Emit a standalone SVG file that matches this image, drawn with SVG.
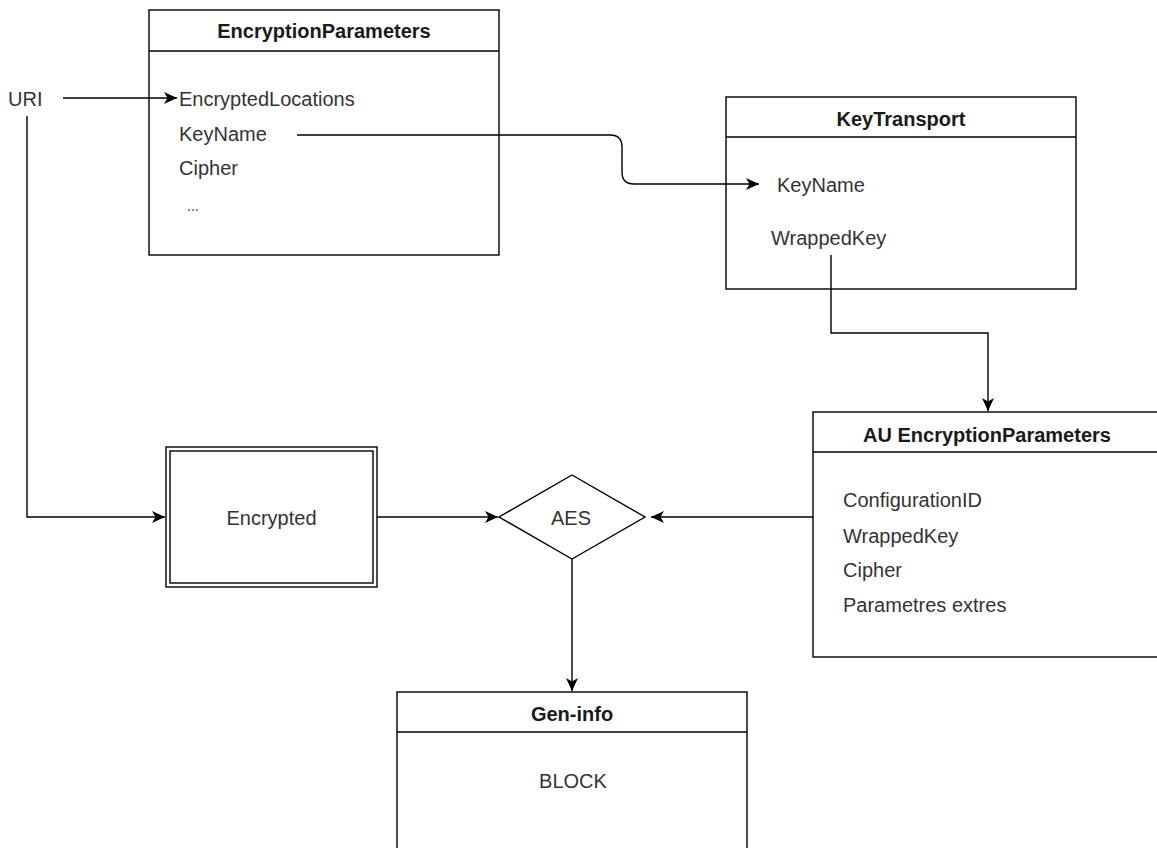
<svg xmlns="http://www.w3.org/2000/svg" width="1157" height="848" viewBox="0 0 1157 848">
  <defs>
    <style>
      .box { fill: #ffffff; stroke: #000000; stroke-width: 1.4; }
      .div { stroke: #000000; stroke-width: 1.4; fill: none; }
      .title { font-family: "Liberation Sans", Arial, sans-serif; font-size: 20px; font-weight: bold; fill: #1a1a1a; text-anchor: middle; }
      .item { font-family: "Liberation Sans", Arial, sans-serif; font-size: 20px; fill: #333333; }
      .mid { text-anchor: middle; }
      .edge { fill: none; stroke: #000000; stroke-width: 1.4; }
    </style>
    <marker id="arrow" markerUnits="userSpaceOnUse" markerWidth="15" markerHeight="13" refX="14" refY="6.5" orient="auto">
      <path d="M1,0.5 L14,6.5 L1,12.5 L4.5,6.5 Z" fill="#000000"/>
    </marker>
  </defs>

  <rect width="1157" height="848" fill="#ffffff"/>

  <!-- free label -->
  <g id="uri">
    <text class="item" x="8" y="106">URI</text>
  </g>

  <g id="encryption-parameters">
    <rect class="box" x="149" y="10" width="350" height="245"/>
    <line class="div" x1="149" y1="51" x2="499" y2="51"/>
    <text class="title" x="324" y="38">EncryptionParameters</text>
    <text class="item" x="179" y="106">EncryptedLocations</text>
    <text class="item" x="179" y="141">KeyName</text>
    <text class="item" x="179" y="175">Cipher</text>
    <text class="item" x="187" y="211" style="font-size:14px">...</text>
  </g>

  <g id="key-transport">
    <rect class="box" x="726" y="97" width="350" height="192"/>
    <line class="div" x1="726" y1="137" x2="1076" y2="137"/>
    <text class="title" x="901" y="126">KeyTransport</text>
    <text class="item" x="777" y="192">KeyName</text>
    <text class="item" x="771" y="245">WrappedKey</text>
  </g>

  <g id="au-encryption-parameters">
    <rect class="box" x="813" y="412" width="350" height="245"/>
    <line class="div" x1="813" y1="452" x2="1163" y2="452"/>
    <text class="title" x="987" y="442">AU EncryptionParameters</text>
    <text class="item" x="843" y="507">ConfigurationID</text>
    <text class="item" x="843" y="543">WrappedKey</text>
    <text class="item" x="843" y="577">Cipher</text>
    <text class="item" x="843" y="612">Parametres extres</text>
  </g>

  <g id="encrypted">
    <rect class="box" x="166" y="447" width="211" height="140"/>
    <rect class="box" x="170" y="451" width="203" height="132"/>
    <text class="item mid" x="271.5" y="525">Encrypted</text>
  </g>

  <g id="aes">
    <polygon class="box" points="572,475 645,517 572,559 499,517"/>
    <text class="item mid" x="571" y="525">AES</text>
  </g>

  <g id="gen-info">
    <rect class="box" x="397" y="692" width="350" height="170"/>
    <line class="div" x1="397" y1="732" x2="747" y2="732"/>
    <text class="title" x="572" y="721">Gen-info</text>
    <text class="item mid" x="573" y="788">BLOCK</text>
  </g>

  <!-- connectors, drawn last so they run over the boxes -->
  <g id="connectors">
    <path class="edge" d="M63,98 H177" marker-end="url(#arrow)"/>
    <path class="edge" d="M27,116 V517 H165" marker-end="url(#arrow)"/>
    <path class="edge" d="M297,135 H610 Q622,135 622,147 V172 Q622,184 634,184 H759" marker-end="url(#arrow)"/>
    <path class="edge" d="M831,255 V333 H988 V411" marker-end="url(#arrow)"/>
    <path class="edge" d="M377,517 H498" marker-end="url(#arrow)"/>
    <path class="edge" d="M813,517 H651" marker-end="url(#arrow)"/>
    <path class="edge" d="M572,559 V691" marker-end="url(#arrow)"/>
  </g>
</svg>
